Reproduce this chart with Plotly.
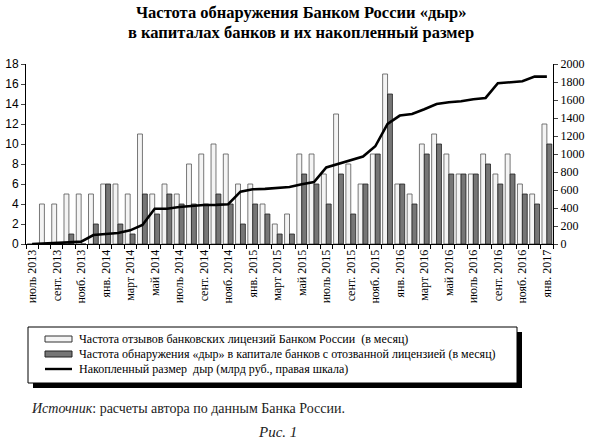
import plotly.graph_objects as go

# месяцы: июль 2013 - янв. 2017
months = ['июль 2013', 'авг. 2013', 'сент. 2013', 'окт. 2013', 'нояб. 2013', 'дек. 2013',
          'янв. 2014', 'февр. 2014', 'март 2014', 'апр. 2014', 'май 2014', 'июнь 2014',
          'июль 2014', 'авг. 2014', 'сент. 2014', 'окт. 2014', 'нояб. 2014', 'дек. 2014',
          'янв. 2015', 'февр. 2015', 'март 2015', 'апр. 2015', 'май 2015', 'июнь 2015',
          'июль 2015', 'авг. 2015', 'сент. 2015', 'окт. 2015', 'нояб. 2015', 'дек. 2015',
          'янв. 2016', 'февр. 2016', 'март 2016', 'апр. 2016', 'май 2016', 'июнь 2016',
          'июль 2016', 'авг. 2016', 'сент. 2016', 'окт. 2016', 'нояб. 2016', 'дек. 2016',
          'янв. 2017']

# частота отзывов лицензий (в месяц)
revoked = [0, 4, 4, 5, 5, 5, 6, 6, 5, 11, 5, 6, 5, 8,
           9, 10, 9, 6, 6, 4, 2, 3, 9, 9, 7, 13, 8, 6, 9,
           17, 6, 5, 10, 11, 9, 7, 7, 9, 7, 9, 6, 5, 12]

# частота обнаружения «дыр» (в месяц)
holes = [0, 0, 0, 1, 0, 2, 6, 2, 1, 5, 3, 5, 4, 4,
         4, 5, 4, 2, 4, 3, 1, 1, 7, 6, 4, 7, 3, 6, 9,
         15, 6, 4, 9, 10, 7, 7, 7, 8, 6, 7, 5, 4, 10]

# накопленный размер дыр, млрд руб.
cumulative = [0, 4, 15, 18, 26, 100, 111, 122, 152, 211, 392, 392, 411, 426,
              433, 435, 442, 582, 608, 612, 622, 634, 663, 689, 851, 891, 932, 972, 1086,
              1335, 1427, 1445, 1497, 1556, 1575, 1586, 1608, 1623, 1786, 1797, 1808, 1860, 1860]

title_lines = ['Частота обнаружения Банком России «дыр»',
               'в капиталах банков и их накопленный размер']

legend_labels = ['Частота отзывов банковских лицензий Банком России  (в месяц)',
                 'Частота обнаружения «дыр» в капитале банков с отозванной лицензией (в месяц)',
                 'Накопленный размер  дыр (млрд руб., правая шкала)']

SERIF = 'Liberation Serif'
W, H = 595, 442
L, R, T, B = 26, 553, 64, 244


def px(x):
    return (x - L) / (R - L)


def py(y):
    return (B - y) / (B - T)


idx = list(range(len(months)))

fig = go.Figure()
fig.add_trace(go.Bar(x=idx, y=revoked, marker=dict(color='#f4f4f4', line=dict(color='#555', width=0.8)),
                     showlegend=False))
fig.add_trace(go.Bar(x=idx, y=holes, marker=dict(color='#767676', line=dict(color='#222', width=0.8)),
                     showlegend=False))
fig.add_trace(go.Scatter(x=idx, y=cumulative, yaxis='y2', mode='lines',
                         line=dict(color='black', width=2.6), showlegend=False))

fig.update_layout(
    width=W, height=H,
    margin=dict(l=L, r=W - R, t=T, b=H - B),
    paper_bgcolor='white', plot_bgcolor='white',
    barmode='group', bargap=0.2, bargroupgap=0,
    xaxis=dict(range=[-0.5, len(months) - 0.5], tickvals=idx[::2], ticktext=months[::2],
               tickangle=-90, ticks='', showgrid=False, zeroline=False, automargin=False,
               showline=True, linecolor='black', linewidth=1,
               tickfont=dict(family=SERIF, size=12, color='black'),
               minor=dict(ticks='outside', tick0=-0.5, dtick=1, ticklen=4, tickcolor='black', showgrid=False)),
    yaxis=dict(range=[0, 18], dtick=2, ticks='outside', ticklen=4, showgrid=False, zeroline=False,
               showline=True, linecolor='black', linewidth=1, automargin=False,
               tickfont=dict(family='Liberation Sans', size=12, color='black')),
    yaxis2=dict(range=[0, 2000], dtick=200, overlaying='y', side='right', ticks='outside', ticklen=4,
                showgrid=False, zeroline=False, showline=True, linecolor='black', linewidth=1,
                automargin=False, tickfont=dict(family=SERIF, size=12, color='black')),
)

# заголовок в две строки
for line, yy in zip(title_lines, [13, 33]):
    fig.add_annotation(xref='paper', yref='paper', x=px(301), y=py(yy), text='<b>' + line + '</b>',
                       showarrow=False, xanchor='center', yanchor='middle',
                       font=dict(family=SERIF, size=16.5, color='black'))

# рамка легенды с тенью
shapes = [
    dict(type='rect', xref='paper', yref='paper', x0=px(33), x1=px(522), y0=py(332), y1=py(388),
         fillcolor='black', line=dict(width=0)),
    dict(type='rect', xref='paper', yref='paper', x0=px(28), x1=px(517), y0=py(327), y1=py(383),
         fillcolor='white', line=dict(color='black', width=1)),
    dict(type='rect', xref='paper', yref='paper', x0=px(45), x1=px(72), y0=py(336), y1=py(342),
         fillcolor='#f4f4f4', line=dict(color='#333', width=1)),
    dict(type='rect', xref='paper', yref='paper', x0=px(45), x1=px(72), y0=py(351), y1=py(357),
         fillcolor='#767676', line=dict(color='#222', width=1)),
    dict(type='line', xref='paper', yref='paper', x0=px(45), x1=px(72), y0=py(369), y1=py(369),
         line=dict(color='black', width=2.4)),
]
fig.update_layout(shapes=shapes)

for label, yy in zip(legend_labels, [339, 354, 369]):
    fig.add_annotation(xref='paper', yref='paper', x=px(77), y=py(yy), text=label, showarrow=False,
                       xanchor='left', yanchor='middle', font=dict(family=SERIF, size=12, color='black'))

fig.add_annotation(xref='paper', yref='paper', x=px(29), y=py(408),
                   text='<i>Источник</i>: расчеты автора по данным Банка России.', showarrow=False,
                   xanchor='left', yanchor='middle', font=dict(family=SERIF, size=14, color='#222'))
fig.add_annotation(xref='paper', yref='paper', x=px(277), y=py(432), text='<i>Рис. 1</i>', showarrow=False,
                   xanchor='center', yanchor='middle', font=dict(family=SERIF, size=15, color='#222'))

# убрать отступ body, чтобы рисунок стоял в левом верхнем углу окна
fig.write_html('out.html', config={'displayModeBar': False},
               post_script="document.body.style.margin='0';")
